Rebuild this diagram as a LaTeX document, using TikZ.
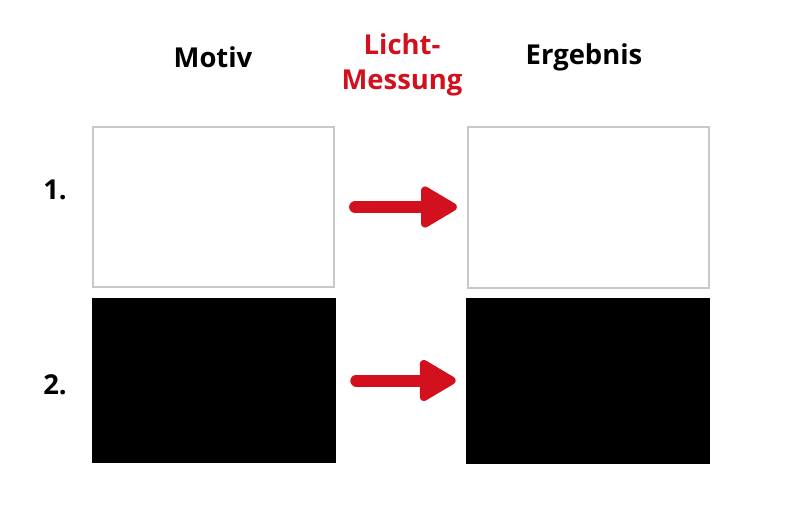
\documentclass[tikz,border=0pt]{standalone}
\usepackage{fontspec}
\setmainfont{Open Sans}
\usetikzlibrary{arrows.meta}
\definecolor{lichtred}{RGB}{210,16,30}
\definecolor{framegray}{RGB}{200,200,200}

\begin{document}
\begin{tikzpicture}[x=0.025cm,y=-0.025cm,
    headline/.style={font=\fontsize{19.5}{25}\selectfont\bfseries,align=center},
    rownum/.style={font=\fontsize{19.5}{25}\selectfont\bfseries},
    whitebox/.style={draw=framegray,line width=0.05cm,fill=white,minimum width=6.03cm,minimum height=4cm,inner sep=0pt},
    blackbox/.style={fill=black,minimum width=6.1cm,minimum height=4.125cm,inner sep=0pt},
    redarrow/.style={draw=lichtred,line width=0.3cm,line cap=round,
        -{Triangle[length=1cm,width=1.12cm,round,line width=0.2cm]},shorten <=0.5cm,shorten >=0.25cm}]
	% Canvas
	\useasboundingbox[fill=white] (0,0) rectangle (800,514);
	
	% Headings
	\node[headline] (motiv) at (213,57) {Motiv};
	\node[headline,text=lichtred] (licht) at (402,65) {Licht-\\Messung};
	\node[headline] (ergebnis) at (584,57) {Ergebnis};
	
	% Row numbers
	\node[rownum] (one) at (55,190) {1.};
	\node[rownum] (two) at (55,385) {2.};
	
	% Motive
	\node[whitebox] (m1) at (213.5,207) {};
	\node[blackbox] (m2) at (214,380.5) {};
	
	% Results
	\node[whitebox] (r1) at (588.5,207.5) {};
	\node[blackbox] (r2) at (588,381) {};
	
	% Arrows
	\draw[redarrow] (m1.east) -- (m1.east -| r1.west);
	\draw[redarrow] (m2.east) -- (m2.east -| r2.west);
\end{tikzpicture}
\end{document}
